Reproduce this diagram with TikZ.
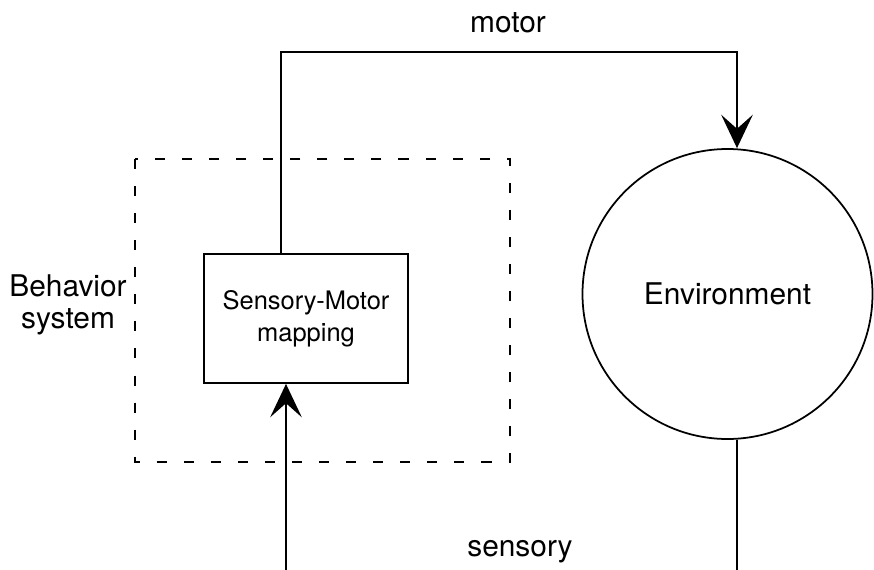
\documentclass[tikz,border=0pt]{standalone}
\usepackage{fontspec}
\setmainfont{TeX Gyre Heros}
\usepackage{tikz}
\usetikzlibrary{arrows.meta}
\tikzset{>={Stealth[length=19pt, width=18pt, inset=8pt]}}

\begin{document}
\begin{tikzpicture}
            \tikzset{label text/.style = {font=\fontsize{17}{18}\selectfont, align=center, inner sep=0pt}}
            \tikzset{box text/.style = {font=\fontsize{14.5}{18}\selectfont, align=center, inner sep=0pt}}
            \tikzset{flow/.style = {line width=1pt, ->}}
            \useasboundingbox (0, 0) rectangle (17.48, -11.4);
            \draw[line width=1pt, dash pattern=on 5.7pt off 9.7pt] (2.7, -3.18) rectangle (10.2, -9.24);
            \node[draw, line width=1pt, minimum width=4.08cm, minimum height=2.58cm, box text] (mapping) at (6.12, -6.37) {Sensory-Motor\\mapping};
            \node[draw, circle, line width=1pt, minimum size=5.8cm, label text] (env) at (14.55, -5.88) {Environment};
            \node[label text] (behavior) at (1.36, -6.1) {Behavior\\system};
            \node[label text] (motor) at (10.16, -0.46) {motor};
            \node[label text] (sensory) at (10.4, -11.04) {sensory};
            \coordinate (m1) at (5.62, -1.04);
            \coordinate (m2) at (14.74, -1.04);
            \coordinate (s1) at (5.72, -11.4);
            \coordinate (s2) at (14.74, -11.4);
            \draw[flow] (m1 |- mapping.north) -- (m1) -- (m2) -- (m2 |- env.north);
            \draw[flow] (s1) -- (s1 |- mapping.south);
            \draw[line width=1pt] (s2 |- env.south) -- (s2);
        \end{tikzpicture}
\end{document}
